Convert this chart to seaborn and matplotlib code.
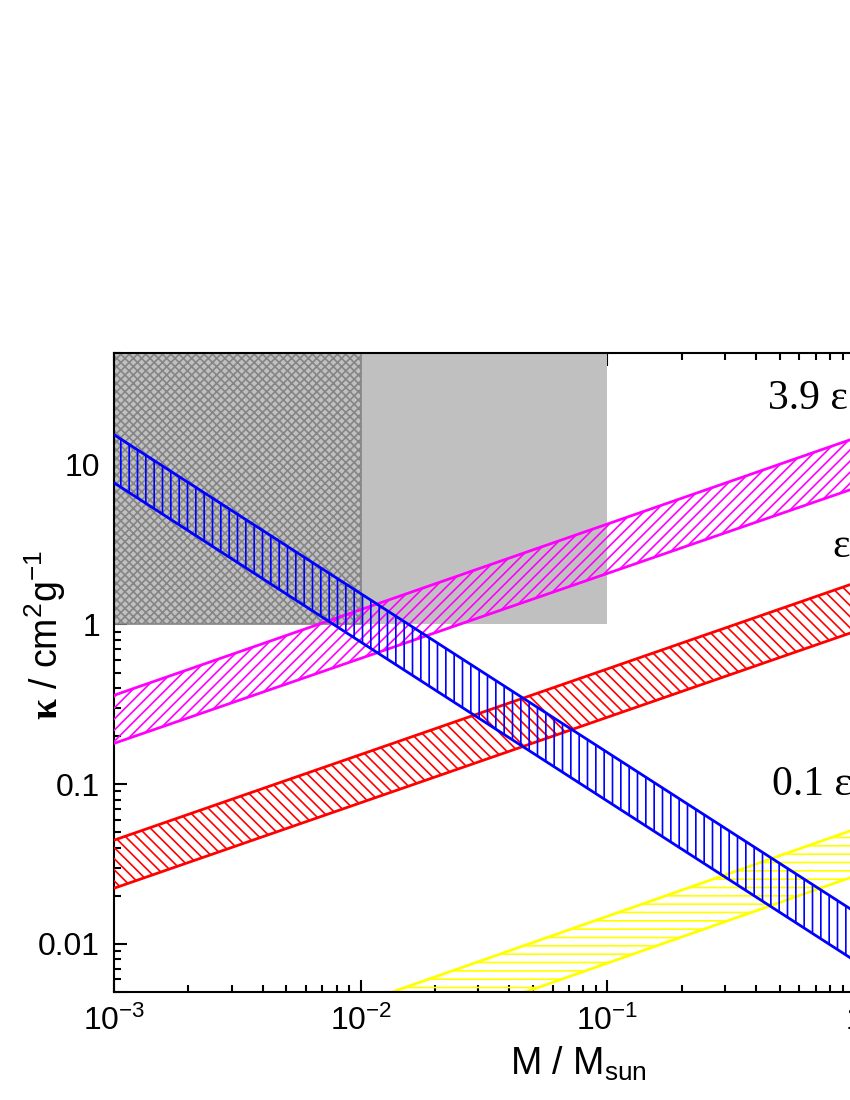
import numpy as np
import pandas as pd
import matplotlib
matplotlib.use("Agg")
import matplotlib.pyplot as plt
import seaborn as sns

# masses at the two ends of every band (M / M_sun)
mass = [1e-3, 1.0]

# kappa (cm^2/g) at both ends, upper and lower edge of each band
blue_hi = [15.4, 0.016]
blue_lo = [7.7, 0.0079]
magenta_hi = [0.36, 14.6]
magenta_lo = [0.18, 7.1]
red_hi = [0.0446, 1.81]
red_lo = [0.0223, 0.90]
yellow_hi = [0.00122, 0.052]
yellow_lo = [0.00062, 0.0265]

# excluded region (grey) and the hatched part of it
grey_mass = [1e-3, 1e-1]
cross_mass = [1e-3, 1e-2]
grey_kappa = [1.0, 50.0]

band_names = ["3.9 ε", "ε", "0.1 ε"]
band_label_x = [0.448, 0.815, 0.465]
band_label_y = [26.0, 3.06, 0.0986]

xticks = [1e-3, 1e-2, 1e-1, 1.0]
xticklabels = [r"$10^{-3}$", r"$10^{-2}$", r"$10^{-1}$", "1"]
yticks = [0.01, 0.1, 1, 10]
yticklabels = ["0.01", "0.1", "1", "10"]

sns.set_style("ticks")
plt.rcParams["font.family"] = ["Liberation Sans", "DejaVu Sans"]
plt.rcParams["mathtext.fontset"] = "custom"
plt.rcParams["mathtext.rm"] = "Liberation Sans"
plt.rcParams["mathtext.it"] = "Liberation Sans:italic"
plt.rcParams["mathtext.bf"] = "Liberation Serif:bold"
plt.rcParams["hatch.linewidth"] = 1.2
plt.rcParams["axes.linewidth"] = 1.5
for k in ["text.color", "axes.labelcolor", "axes.edgecolor", "xtick.color", "ytick.color"]:
    plt.rcParams[k] = "black"

fig = plt.figure(figsize=(8.5, 11), dpi=100)
# the axes runs past the right edge of the page, as in the original crop
ax = fig.add_axes([114 / 850, 1 - 992 / 1100, 4 * 246.7 / 850, (992 - 353) / 1100])
ax.set_xscale("log")
ax.set_yscale("log")
ax.set_xlim(1e-3, 10)
ax.set_ylim(0.005, 50)

# grey region
ax.fill_between(grey_mass, grey_kappa[0], grey_kappa[1], facecolor="#c0c0c0",
                edgecolor="none", lw=0, zorder=1)
ax.fill_between(cross_mass, grey_kappa[0], grey_kappa[1], facecolor="none",
                edgecolor="#858585", hatch="xxxx", lw=1.2, zorder=1.5)

bands = [
    (yellow_lo, yellow_hi, "#ffff00", "--"),
    (red_lo, red_hi, "#ff0000", "\\\\\\"),
    (magenta_lo, magenta_hi, "#ff00ff", "///"),
    (blue_lo, blue_hi, "#0000ff", "||"),
]
for i, (lo, hi, col, hat) in enumerate(bands):
    z = 2 + i
    ax.fill_between(mass, lo, hi, facecolor="none", edgecolor=col, hatch=hat,
                    lw=0, zorder=z)
    df = pd.DataFrame({"M": mass * 2, "k": lo + hi, "edge": ["lo"] * 2 + ["hi"] * 2})
    sns.lineplot(data=df, x="M", y="k", units="edge", estimator=None, color=col,
                 lw=2, ax=ax, zorder=z + 0.5, legend=False)

for name, lx, ly in zip(band_names, band_label_x, band_label_y):
    ax.text(lx, ly, name, family="Liberation Serif", fontsize=30, ha="left",
            va="center", zorder=10)

ax.set_xticks(xticks)
ax.set_xticklabels(xticklabels)
ax.set_yticks(yticks)
ax.set_yticklabels(yticklabels)
ax.tick_params(which="both", direction="in", top=True, right=True, width=1.5)
ax.tick_params(which="major", length=9, labelsize=23, pad=10)
ax.tick_params(which="minor", length=5)
ax.yaxis.set_minor_locator(matplotlib.ticker.LogLocator(base=10, subs=np.arange(2, 10)))
ax.xaxis.set_minor_locator(matplotlib.ticker.LogLocator(base=10, subs=np.arange(2, 10)))
ax.yaxis.set_minor_formatter(matplotlib.ticker.NullFormatter())
ax.xaxis.set_minor_formatter(matplotlib.ticker.NullFormatter())

ax.set_xlabel(r"M / M$_{\mathrm{sun}}$", fontsize=27)
ax.set_ylabel(r"$\mathbf{\kappa}$ / cm$^{2}$g$^{-1}$", fontsize=27)
ax.xaxis.set_label_coords(578 / 850, 1 - 1045 / 1100, transform=fig.transFigure)
ax.yaxis.set_label_coords(68 / 850, 1 - 635 / 1100, transform=fig.transFigure)

fig.savefig("out.png", dpi=100)
